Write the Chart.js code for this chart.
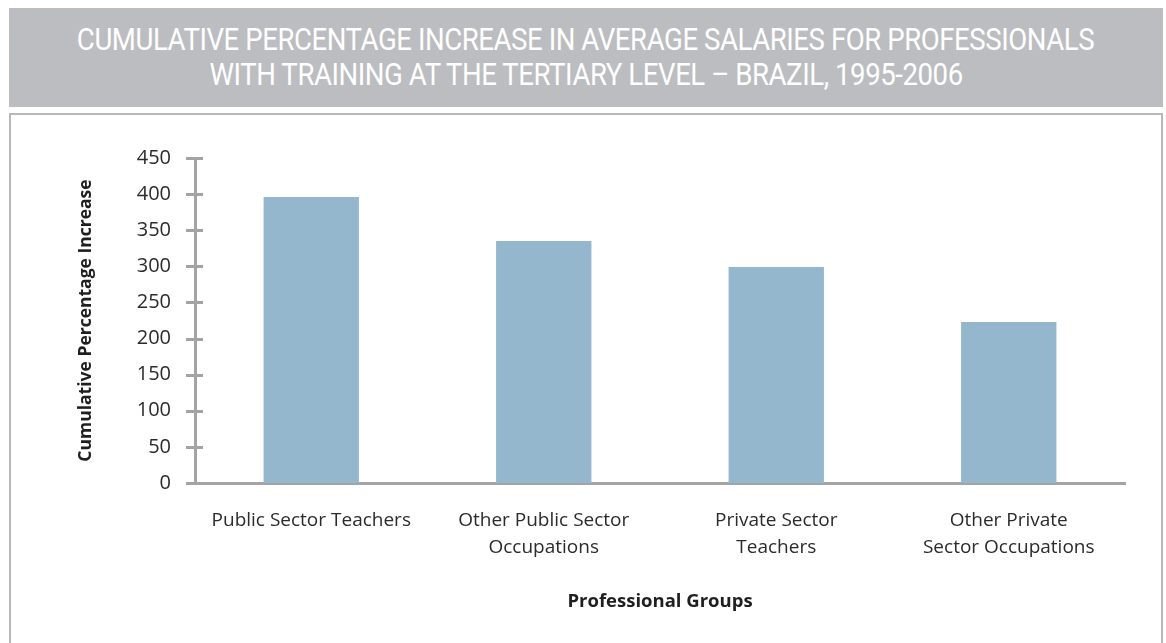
<!DOCTYPE html>
<html>
<head>
<meta charset="utf-8">
<script src="https://cdn.jsdelivr.net/npm/chart.js@4.4.0/dist/chart.umd.min.js"></script>
<style>
    body { margin: 0; background: #fff; width: 1166px; height: 643px; overflow: hidden; position: relative; }
    .title-box {
        position: absolute; left: 9px; top: 8px; width: 1154px; height: 99px;
        background: #bcbdc0; color: #fff; text-align: center;
        font-family: "Roboto", sans-serif; font-weight: 400;
        font-size: 31px; line-height: 35px; padding-top: 14px; box-sizing: border-box;
    }
    .title-box span { display: inline-block; transform: scaleX(0.89); white-space: nowrap; letter-spacing: -0.5px; }
    .chart-box {
        position: absolute; left: 9px; top: 113px; width: 1154px; height: 540px;
        border: 2px solid #b8b8b8; box-sizing: border-box; background: #fff;
    }
    .chart-box canvas { position: absolute; left: 0; top: 0; }
</style>
</head>
<body>
<div class="title-box"><span>CUMULATIVE PERCENTAGE INCREASE IN AVERAGE SALARIES FOR PROFESSIONALS</span><br><span>WITH TRAINING AT THE TERTIARY LEVEL &ndash; BRAZIL, 1995-2006</span></div>
<div class="chart-box">
    <canvas id="chart" width="1150" height="528"></canvas>
</div>
<script>
var groups = [
    ['Public Sector Teachers'],
    ['Other Public Sector', 'Occupations'],
    ['Private Sector', 'Teachers'],
    ['Other Private', 'Sector Occupations']
];
var increase = [396, 335, 299, 223];
var yTicks = [0, 50, 100, 150, 200, 250, 300, 350, 400, 450];

var axisGrey = '#a3a4a6';

// Excel style cross tick marks on the value axis
var crossTicks = {
    id: 'crossTicks',
    afterDraw: function(chart) {
        var ctx = chart.ctx;
        var y = chart.scales.y;
        var x0 = chart.chartArea.left;
        ctx.save();
        ctx.strokeStyle = axisGrey;
        ctx.lineWidth = 3;
        yTicks.forEach(function(v) {
            var py = Math.round(y.getPixelForValue(v)) + 0.5;
            ctx.beginPath();
            ctx.moveTo(x0 - 9, py);
            ctx.lineTo(x0 + 8, py);
            ctx.stroke();
        });
        ctx.restore();
    }
};

var ctx = document.getElementById('chart');
var chart = new Chart(ctx, {
    type: 'bar',
    data: {
        labels: groups,
        datasets: [{
            label: 'Cumulative Percentage Increase',
            data: increase,
            backgroundColor: '#94b7cd',
            borderWidth: 0,
            categoryPercentage: 0.41,
            barPercentage: 1
        }]
    },
    options: {
        responsive: false,
        animation: false,
        layout: { padding: { top: 43, right: 36, left: 0, bottom: 0 } },
        plugins: {
            legend: { display: false },
            tooltip: { enabled: false }
        },
        scales: {
            x: {
                grid: { display: false, drawTicks: false },
                border: { display: true, color: axisGrey, width: 3 },
                ticks: {
                    color: '#2b2b2b', padding: 24, maxRotation: 0, autoSkip: false,
                    font: { family: 'Open Sans', size: 19, lineHeight: 1.42 }
                },
                title: {
                    display: true, text: 'Professional Groups', color: '#1f1f1f',
                    font: { family: 'Open Sans', size: 18.5, weight: 'bold' },
                    padding: { top: 0, bottom: 30 }
                },
                afterFit: function(scale) { scale.height = 160; }
            },
            y: {
                min: 0, max: 450,
                afterBuildTicks: function(scale) {
                    scale.ticks = yTicks.map(function(v) { return { value: v }; });
                },
                grid: { display: false, drawTicks: false },
                border: { display: true, color: axisGrey, width: 3 },
                ticks: {
                    color: '#2b2b2b', padding: 24,
                    font: { family: 'Open Sans', size: 20 }
                },
                title: {
                    display: true, text: 'Cumulative Percentage Increase', color: '#1f1f1f',
                    font: { family: 'Open Sans', size: 17.5, weight: 'bold' },
                    padding: { top: 65, bottom: 0 }
                },
                afterFit: function(scale) { scale.width = 184; }
            }
        }
    },
    plugins: [crossTicks]
});
</script>
</body>
</html>
